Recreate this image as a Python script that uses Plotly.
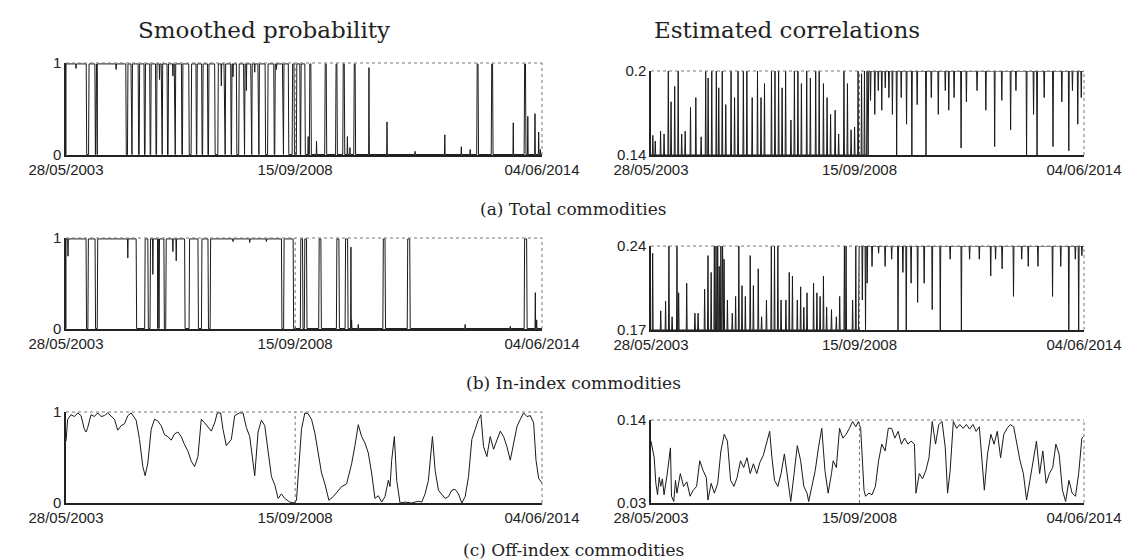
import plotly.graph_objects as go

# x is the observation number (daily data, 28/05/2003 .. 04/06/2014)
N_OBS = 2850
tick_obs = [0, 1372, 2850]
tick_dates = ["28/05/2003", "15/09/2008", "04/06/2014"]

# ---- (a) total commodities, smoothed probability ----
prob_total_up = [(0, 121), (138, 173), (190, 358), (371, 389), (398, 432), (441, 467), (476, 501),
                 (510, 536), (545, 570), (579, 605), (614, 648), (657, 691), (700, 735), (752, 778),
                 (786, 812), (821, 847), (856, 890), (912, 946), (956, 986), (994, 1020), (1037, 1063),
                 (1072, 1106), (1115, 1149), (1158, 1192), (1210, 1244), (1253, 1296), (1305, 1331),
                 (1357, 1365), (1382, 1400), (1408, 1430), (1460, 1466), (1552, 1558), (1617, 1622),
                 (1660, 1666), (1726, 1731), (2462, 2467), (2549, 2554), (2746, 2751)]
prob_total_spikes = [(1450, 0.2), (1500, 0.15), (1685, 0.2), (1700, 0.08), (1814, 0.95), (1922, 0.36),
                     (2090, 0.04), (2268, 0.22), (2367, 0.09), (2420, 0.06), (2678, 0.35), (2765, 0.42),
                     (2808, 0.45), (2830, 0.25), (2840, 0.06)]
prob_total_dips = [(60, 0.94), (185, 0.9), (300, 0.93), (560, 0.82), (640, 0.86), (930, 0.75),
                   (1000, 0.85), (1080, 0.7), (1130, 0.9), (1260, 0.93)]

# ---- (b) in-index commodities, smoothed probability ----
prob_in_up = [(0, 120), (134, 174), (190, 420), (474, 490), (506, 546), (560, 586), (600, 710),
              (740, 790), (814, 850), (866, 1290), (1306, 1360), (1406, 1416), (1430, 1440),
              (1516, 1526), (1622, 1634), (1674, 1686), (1900, 1910), (2046, 2058), (2746, 2758)]
prob_in_spikes = [(1706, 0.9), (1710, 0.1), (1750, 0.05), (2390, 0.05), (2660, 0.03), (2810, 0.4),
                  (2818, 0.1)]
prob_in_dips = [(12, 0.8), (370, 0.78), (520, 0.6), (550, 0.9), (640, 0.85), (660, 0.75), (1000, 0.96),
                (1100, 0.95), (1200, 0.96)]

# ---- (c) off-index commodities, smoothed probability ----
prob_off_obs = [0, 10, 30, 50, 70, 90, 110, 120, 130, 150, 170, 190, 210, 230, 250, 270, 290, 310,
                330, 350, 370, 390, 420, 440, 460, 474, 490, 510, 530, 550, 570, 590, 610, 630, 650,
                670, 690, 710, 730, 750, 770, 790, 810, 830, 850, 870, 890, 906, 926, 940, 960, 990,
                1010, 1040, 1060, 1080, 1100, 1114, 1130, 1150, 1170, 1190, 1210, 1230, 1250, 1270,
                1290, 1310, 1340, 1366, 1380, 1394, 1410, 1430, 1450, 1470, 1490, 1510, 1530, 1550,
                1574, 1600, 1630, 1650, 1680, 1710, 1730, 1750, 1770, 1790, 1810, 1830, 1850, 1870,
                1890, 1910, 1930, 1940, 1950, 1966, 1980, 2000, 2030, 2070, 2110, 2130, 2150, 2170,
                2194, 2210, 2230, 2250, 2270, 2290, 2310, 2330, 2350, 2370, 2390, 2410, 2430, 2450,
                2470, 2484, 2500, 2520, 2540, 2560, 2580, 2600, 2620, 2640, 2660, 2680, 2700, 2720,
                2740, 2760, 2780, 2800, 2814, 2830, 2850]
prob_off_val = [0.68, 0.92, 0.97, 0.95, 0.99, 0.96, 0.81, 0.78, 0.83, 0.97, 0.95, 0.99, 0.95,
                0.96, 0.99, 0.95, 0.92, 0.80, 0.85, 0.87, 0.96, 0.99, 0.91, 0.70, 0.40, 0.30, 0.44,
                0.81, 0.92, 0.90, 0.85, 0.75, 0.73, 0.69, 0.76, 0.78, 0.73, 0.64, 0.57, 0.46, 0.40,
                0.51, 0.92, 0.88, 0.83, 0.79, 0.88, 0.99, 0.99, 0.81, 0.63, 0.70, 0.96, 0.99, 0.99,
                0.83, 0.73, 0.54, 0.30, 0.78, 0.91, 0.85, 0.55, 0.29, 0.20, 0.05, 0.10, 0.05, 0.01,
                0.00, 0.03, 0.37, 0.81, 0.99, 0.98, 0.92, 0.77, 0.55, 0.33, 0.21, 0.03, 0.07, 0.14,
                0.18, 0.21, 0.43, 0.63, 0.86, 0.73, 0.66, 0.55, 0.33, 0.05, 0.08, 0.01, 0.07, 0.25,
                0.18, 0.47, 0.73, 0.25, 0.00, 0.01, 0.00, 0.02, 0.01, 0.10, 0.25, 0.73, 0.36, 0.14,
                0.10, 0.05, 0.07, 0.14, 0.15, 0.10, 0.00, 0.07, 0.29, 0.70, 0.81, 0.92, 0.97, 0.62,
                0.51, 0.73, 0.59, 0.70, 0.79, 0.73, 0.62, 0.47, 0.66, 0.84, 0.92, 0.99, 0.95, 0.96,
                0.88, 0.47, 0.27, 0.22]

# ---- estimated correlations: (obs, value) spikes over a low regime, dips under a high regime ----
corr_total_low, corr_total_high, corr_total_switch = 0.14, 0.2, 1433
corr_total_spikes = [(12, 0.154), (28, 0.15), (63, 0.157), (86, 0.155), (114, 0.2), (132, 0.178),
                     (156, 0.189), (179, 0.2), (202, 0.155), (225, 0.157), (260, 0.174), (295, 0.181),
                     (330, 0.153), (360, 0.2), (376, 0.195), (400, 0.2), (430, 0.2), (446, 0.188),
                     (469, 0.2), (492, 0.176), (527, 0.2), (550, 0.181), (573, 0.2), (608, 0.2),
                     (631, 0.2), (666, 0.181), (701, 0.2), (724, 0.181), (747, 0.191), (793, 0.2),
                     (816, 0.2), (840, 0.2), (863, 0.188), (886, 0.2), (921, 0.165), (944, 0.2),
                     (967, 0.2), (990, 0.191), (1025, 0.2), (1049, 0.195), (1084, 0.2), (1107, 0.2),
                     (1135, 0.191), (1159, 0.181), (1182, 0.169), (1212, 0.172), (1235, 0.155),
                     (1270, 0.2), (1293, 0.191), (1317, 0.158), (1340, 0.16), (1363, 0.2), (1386, 0.198),
                     (1405, 0.2), (1422, 0.2)]
corr_total_dips = [(1445, 0.179), (1473, 0.169), (1496, 0.186), (1519, 0.172), (1542, 0.188),
                   (1566, 0.181), (1589, 0.169), (1617, 0.14), (1647, 0.181), (1682, 0.162),
                   (1717, 0.14), (1752, 0.176), (1810, 0.14), (1845, 0.181), (1891, 0.169),
                   (1937, 0.186), (1960, 0.172), (1995, 0.181), (2041, 0.145), (2076, 0.178),
                   (2146, 0.186), (2204, 0.172), (2262, 0.146), (2309, 0.179), (2367, 0.158),
                   (2402, 0.186), (2472, 0.14), (2518, 0.169), (2541, 0.14), (2588, 0.181),
                   (2646, 0.146), (2704, 0.178), (2750, 0.143), (2774, 0.186), (2809, 0.162),
                   (2832, 0.181)]

corr_in_low, corr_in_high, corr_in_switch = 0.17, 0.24, 1370
corr_in_spikes = [(11, 0.234), (64, 0.186), (96, 0.194), (118, 0.24), (139, 0.181), (171, 0.24),
                  (182, 0.201), (235, 0.209), (289, 0.184), (310, 0.184), (353, 0.204), (375, 0.232),
                  (396, 0.218), (417, 0.24), (428, 0.24), (439, 0.24), (449, 0.223), (460, 0.24),
                  (471, 0.24), (481, 0.229), (503, 0.195), (535, 0.184), (557, 0.198), (578, 0.24),
                  (599, 0.207), (621, 0.198), (653, 0.232), (674, 0.207), (706, 0.221), (728, 0.181),
                  (760, 0.195), (792, 0.24), (813, 0.24), (835, 0.24), (856, 0.195), (888, 0.195),
                  (910, 0.218), (931, 0.215), (963, 0.195), (985, 0.206), (1006, 0.189),
                  (1027, 0.201), (1070, 0.209), (1092, 0.201), (1113, 0.198), (1135, 0.215),
                  (1156, 0.189), (1188, 0.187), (1220, 0.181), (1242, 0.198), (1273, 0.24),
                  (1284, 0.24), (1327, 0.195), (1348, 0.24)]
corr_in_dips = [(1391, 0.195), (1412, 0.17), (1423, 0.209), (1455, 0.223), (1498, 0.234),
                (1541, 0.223), (1584, 0.229), (1626, 0.17), (1658, 0.218), (1680, 0.17),
                (1712, 0.209), (1755, 0.193), (1798, 0.209), (1851, 0.187), (1904, 0.17),
                (1969, 0.229), (2043, 0.17), (2097, 0.229), (2161, 0.229), (2236, 0.215),
                (2268, 0.229), (2311, 0.221), (2386, 0.198), (2440, 0.229), (2483, 0.223),
                (2547, 0.223), (2643, 0.198), (2697, 0.223), (2750, 0.17), (2793, 0.229),
                (2815, 0.17), (2836, 0.232)]

corr_off_obs = [0, 21, 32, 43, 54, 64, 75, 86, 107, 128, 135, 150, 161, 171, 193, 214, 236, 257,
                278, 300, 321, 343, 364, 375, 396, 417, 439, 460, 482, 503, 524, 546, 567, 589, 610,
                632, 653, 674, 696, 717, 739, 760, 781, 796, 813, 835, 856, 878, 899, 920, 942, 963,
                985, 1006, 1027, 1038, 1059, 1081, 1102, 1124, 1145, 1166, 1188, 1199, 1220, 1241,
                1263, 1284, 1306, 1327, 1348, 1365, 1380, 1391, 1402, 1412, 1434, 1455, 1477, 1498,
                1519, 1541, 1562, 1584, 1605, 1627, 1648, 1669, 1691, 1712, 1734, 1744, 1766, 1787,
                1809, 1830, 1851, 1873, 1894, 1916, 1937, 1952, 1969, 1990, 2012, 2033, 2054, 2076,
                2097, 2119, 2140, 2161, 2183, 2194, 2215, 2237, 2258, 2279, 2301, 2322, 2344, 2365,
                2387, 2408, 2429, 2451, 2472, 2494, 2515, 2537, 2558, 2579, 2601, 2622, 2644, 2665,
                2686, 2708, 2729, 2751, 2772, 2794, 2815, 2836, 2846]
corr_off_val = [0.112, 0.090, 0.056, 0.041, 0.064, 0.052, 0.062, 0.041, 0.069, 0.103, 0.039,
                0.032, 0.060, 0.043, 0.069, 0.052, 0.058, 0.039, 0.047, 0.052, 0.086, 0.073, 0.064,
                0.034, 0.056, 0.043, 0.056, 0.099, 0.121, 0.112, 0.060, 0.052, 0.064, 0.086, 0.077,
                0.090, 0.069, 0.082, 0.069, 0.084, 0.093, 0.108, 0.125, 0.090, 0.060, 0.052, 0.069,
                0.095, 0.060, 0.032, 0.069, 0.106, 0.086, 0.052, 0.043, 0.032, 0.052, 0.073, 0.103,
                0.129, 0.073, 0.043, 0.069, 0.086, 0.077, 0.129, 0.116, 0.121, 0.129, 0.138, 0.131,
                0.138, 0.129, 0.090, 0.047, 0.039, 0.043, 0.041, 0.052, 0.086, 0.108, 0.099, 0.129,
                0.129, 0.116, 0.125, 0.108, 0.116, 0.108, 0.112, 0.108, 0.043, 0.069, 0.062, 0.073,
                0.090, 0.138, 0.108, 0.134, 0.138, 0.103, 0.043, 0.073, 0.138, 0.129, 0.134, 0.129,
                0.134, 0.128, 0.134, 0.125, 0.131, 0.069, 0.047, 0.095, 0.121, 0.108, 0.125, 0.090,
                0.121, 0.129, 0.134, 0.131, 0.108, 0.086, 0.069, 0.034, 0.060, 0.086, 0.112, 0.069,
                0.099, 0.056, 0.069, 0.077, 0.108, 0.095, 0.047, 0.032, 0.060, 0.043, 0.039, 0.069,
                0.116, 0.118]


def regime_series(up, spikes, dips, lo=0.005, hi=0.99):
    pts = [(0, lo), (N_OBS, lo)]
    for s, e in up:
        pts += [(s - 3, lo), (s, hi), (e, hi), (e + 3, lo)]
    for o, v in spikes:
        pts += [(o - 2, lo), (o, v), (o + 2, lo)]
    for o, v in dips:
        pts += [(o - 2, hi), (o, v), (o + 2, hi)]
    pts = sorted((max(0, min(N_OBS, x)), y) for x, y in pts)
    return [p[0] for p in pts], [p[1] for p in pts]


def corr_series(spikes, dips, lo, hi, switch):
    pts = [(0, lo), (switch - 4, lo), (switch, hi), (N_OBS, hi)]
    for o, v in spikes:
        pts += [(o - 3, lo), (o, v), (o + 3, lo)]
    for o, v in dips:
        pts += [(o - 3, hi), (o, v), (o + 3, hi)]
    pts = sorted(pts)
    return [p[0] for p in pts], [p[1] for p in pts]


panels = [
    (regime_series(prob_total_up, prob_total_spikes, prob_total_dips), [0, 1], ["0", "1"]),
    (corr_series(corr_total_spikes, corr_total_dips, corr_total_low, corr_total_high, corr_total_switch),
     [0.14, 0.2], ["0.14", "0.2"]),
    (regime_series(prob_in_up, prob_in_spikes, prob_in_dips), [0, 1], ["0", "1"]),
    (corr_series(corr_in_spikes, corr_in_dips, corr_in_low, corr_in_high, corr_in_switch),
     [0.17, 0.24], ["0.17", "0.24"]),
    ((prob_off_obs, prob_off_val), [0, 1], ["0", "1"]),
    ((corr_off_obs, corr_off_val), [0.03, 0.14], ["0.03", "0.14"]),
]

W, H = 1132, 559
x_dom = [(58 / W, 534 / W), (643 / W, 1076 / W)]
y_dom = [((1 - 147 / H, 1 - 55 / H), (1 - 147 / H, 1 - 63 / H)),
         ((1 - 321 / H, 1 - 230 / H), (1 - 322 / H, 1 - 238 / H)),
         ((1 - 495 / H, 1 - 404 / H), (1 - 495 / H, 1 - 412 / H))]

tick_font = dict(family="Liberation Sans, Arial, sans-serif", size=15, color="#222")
fig = go.Figure()
layout = {}
shapes = []
for i, ((xs, ys), yr, ytxt) in enumerate(panels):
    row, col = divmod(i, 2)
    n = "" if i == 0 else str(i + 1)
    fig.add_trace(go.Scatter(x=xs, y=ys, mode="lines", line=dict(color="#1a1a1a", width=1),
                             xaxis="x" + n, yaxis="y" + n, showlegend=False, hoverinfo="skip"))
    layout["xaxis" + n] = dict(domain=x_dom[col], range=[0, N_OBS], anchor="y" + n,
                               tickvals=tick_obs, ticktext=tick_dates, ticks="inside", ticklen=3,
                               showline=True, linecolor="#222", linewidth=1.5, showgrid=False,
                               zeroline=False, tickfont=tick_font, automargin=False)
    layout["yaxis" + n] = dict(domain=y_dom[row][col], range=yr, anchor="x" + n,
                               tickvals=yr, ticktext=ytxt, ticks="inside", ticklen=3,
                               showline=True, linecolor="#222", linewidth=1.5, showgrid=False,
                               zeroline=False, tickfont=tick_font, automargin=False)
    ax, ay = "x" + n, "y" + n
    dot = dict(color="#777", width=1, dash="dot")
    shapes += [
        dict(type="line", xref=ax + " domain", yref=ay + " domain", x0=0, x1=1, y0=1, y1=1, line=dot),
        dict(type="line", xref=ax + " domain", yref=ay + " domain", x0=1, x1=1, y0=0, y1=1, line=dot),
        dict(type="line", xref=ax, yref=ay + " domain", x0=tick_obs[1], x1=tick_obs[1], y0=0, y1=1,
             line=dot),
    ]

serif = "DejaVu Serif, Liberation Serif, serif"
annotations = [
    dict(text="Smoothed probability", x=256 / W, y=1 - 22 / H, font=dict(family=serif, size=23)),
    dict(text="Estimated correlations", x=779 / W, y=1 - 22 / H, font=dict(family=serif, size=23)),
    dict(text="(a) Total commodities", x=565 / W, y=1 - 201 / H, font=dict(family=serif, size=17)),
    dict(text="(b) In-index commodities", x=565 / W, y=1 - 375 / H, font=dict(family=serif, size=17)),
    dict(text="(c) Off-index commodities", x=565 / W, y=1 - 542 / H, font=dict(family=serif, size=17)),
]
for a in annotations:
    a.update(xref="paper", yref="paper", showarrow=False, xanchor="center", yanchor="middle")
    a["font"]["color"] = "#222"

fig.update_layout(width=W, height=H, margin=dict(l=0, r=0, t=0, b=0), plot_bgcolor="white",
                  paper_bgcolor="white", shapes=shapes, annotations=annotations, **layout)
fig.write_html("out.html")
